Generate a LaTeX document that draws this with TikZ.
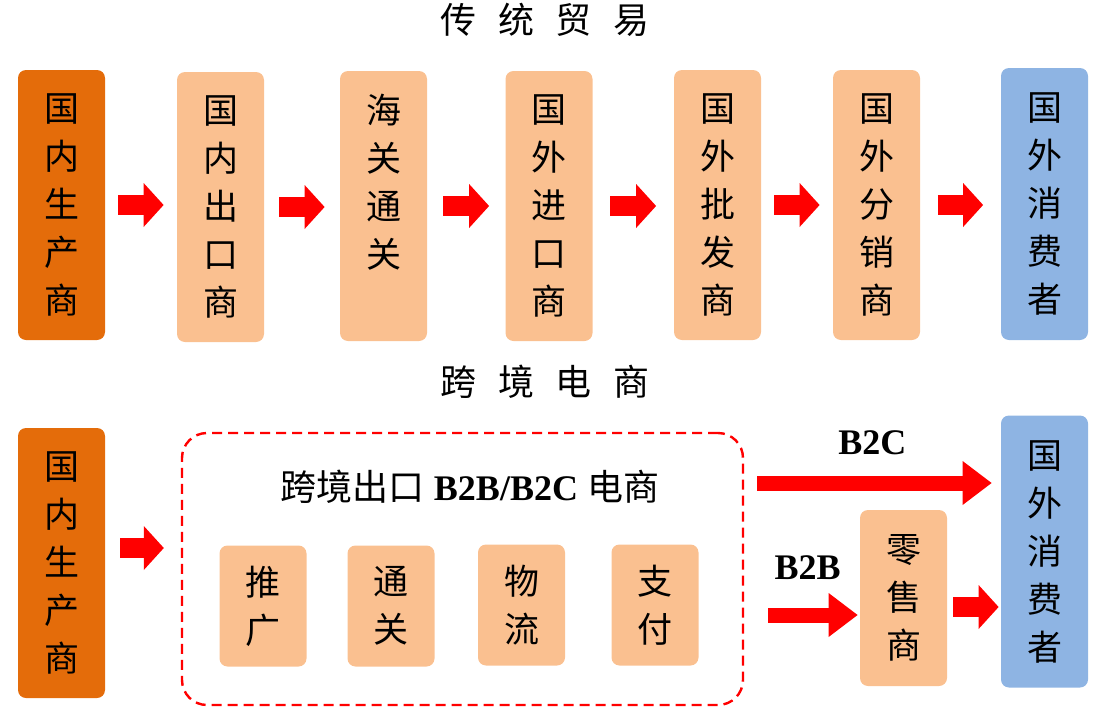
\documentclass[tikz,border=0pt]{standalone}
\usepackage{fontspec}
\setmainfont{Liberation Serif}
\newfontfamily\cjk{Noto Sans CJK SC}
\usepackage{tikz}
\usetikzlibrary{arrows.meta}
\usetikzlibrary{calc}
\definecolor{prodor}{HTML}{E46C0A}
\definecolor{midor}{HTML}{FAC090}
\definecolor{consbl}{HTML}{8EB4E3}
\tikzset{
	box/.style={rounded corners=4pt,minimum width=43.5pt,inner sep=0pt,align=center,font=\cjk\fontsize{17.5}{24}\selectfont},
	prodbox/.style={box,fill=prodor,minimum height=135pt},
	midbox/.style={box,fill=midor,minimum height=135pt},
	consbox/.style={box,fill=consbl,minimum height=136pt},
	smallbox/.style={box,fill=midor,minimum height=60.5pt},
	blockarrow/.style={red,line width=10pt,-{Triangle[length=10pt,width=22pt,line width=0pt]}},
	longarrow/.style={red,line width=7.5pt,-{Triangle[length=14.5pt,width=22pt,line width=0pt]}},
	title/.style={font=\cjk\fontsize{18}{20}\selectfont},
	arrlabel/.style={text=black,font=\rmfamily\bfseries\fontsize{18}{20}\selectfont}
}

\begin{document}
\begin{tikzpicture}[x=0.5pt,y=-0.5pt]
	\useasboundingbox (0,0) rectangle (1100,723);
	\node[title] (tt) at (545,20) {传\hspace{.6em}统\hspace{.6em}贸\hspace{.6em}易};
	\node[title] (tx) at (545,382) {跨\hspace{.6em}境\hspace{.6em}电\hspace{.6em}商};

	\node[prodbox] (tp) at (61.5,205) {国\\内\\生\\产\\商};
	\node[midbox] (te) at (220.5,207) {国\\内\\出\\口\\商};
	\node[midbox] (tc) at (383.5,206) {海\\关\\通\\关\\\phantom{关}};
	\node[midbox] (ti) at (549,206) {国\\外\\进\\口\\商};
	\node[midbox] (tw) at (717.5,205) {国\\外\\批\\发\\商};
	\node[midbox] (td) at (876.5,205) {国\\外\\分\\销\\商};
	\node[consbox] (tk) at (1044.5,204) {国\\外\\消\\费\\者};
	\foreach \a/\b/\s in {tp/te/6.5pt,te/tc/7.5pt,tc/ti/8pt,ti/tw/8.75pt,tw/td/6.5pt,td/tk/8.75pt}
	\draw[blockarrow,shorten <=\s,shorten >=\s] (\a.east) -- (\a.east -| \b.west);

	\node[prodbox] (bp) at (61.5,563) {国\\内\\生\\产\\商};
	\node[draw=red,line width=1.2pt,dash pattern=on 5pt off 3pt,rounded corners=12.5pt,minimum width=280.5pt,minimum height=136pt] (eb) at (462.5,569) {};
	\node[font=\cjk\fontsize{18}{22}\selectfont] (ebt) at (470,487) {跨境出口{\rmfamily\bfseries{} B2B/B2C }电商};
	\node[smallbox] (sa) at (263,606) {推\\广};
	\node[smallbox] (sb) at (391,606) {通\\关};
	\node[smallbox] (sc) at (521.5,605) {物\\流};
	\node[smallbox] (sd) at (655,605) {支\\付};
	\node[box,fill=midor,minimum height=88pt] (rs) at (903.5,598) {零\\售\\商};
	\node[consbox] (bk) at (1044.5,551.5) {国\\外\\消\\费\\者};

	\draw[blockarrow,shorten <=7.5pt,shorten >=8.5pt] ([yshift=7.5pt]bp.east) -- ([yshift=7.5pt]bp.east -| eb.west);
	\draw[longarrow,shorten <=6.5pt,shorten >=4.5pt] ([yshift=43pt]eb.east) -- ([yshift=43pt]eb.east -| bk.west)
		node[arrlabel,midway,yshift=20pt] (lc) {B2C};
	\draw[longarrow,shorten <=12pt,shorten >=1pt] ([yshift=-23pt]eb.east) -- ([yshift=-23pt]eb.east -| rs.west)
		node[arrlabel,pos=0.55,yshift=23.5pt] (lb) {B2B};
	\draw[blockarrow,shorten <=3pt,shorten >=1pt] ([yshift=-4.5pt]rs.east) -- ([yshift=-4.5pt]rs.east -| bk.west);
\end{tikzpicture}
\end{document}
